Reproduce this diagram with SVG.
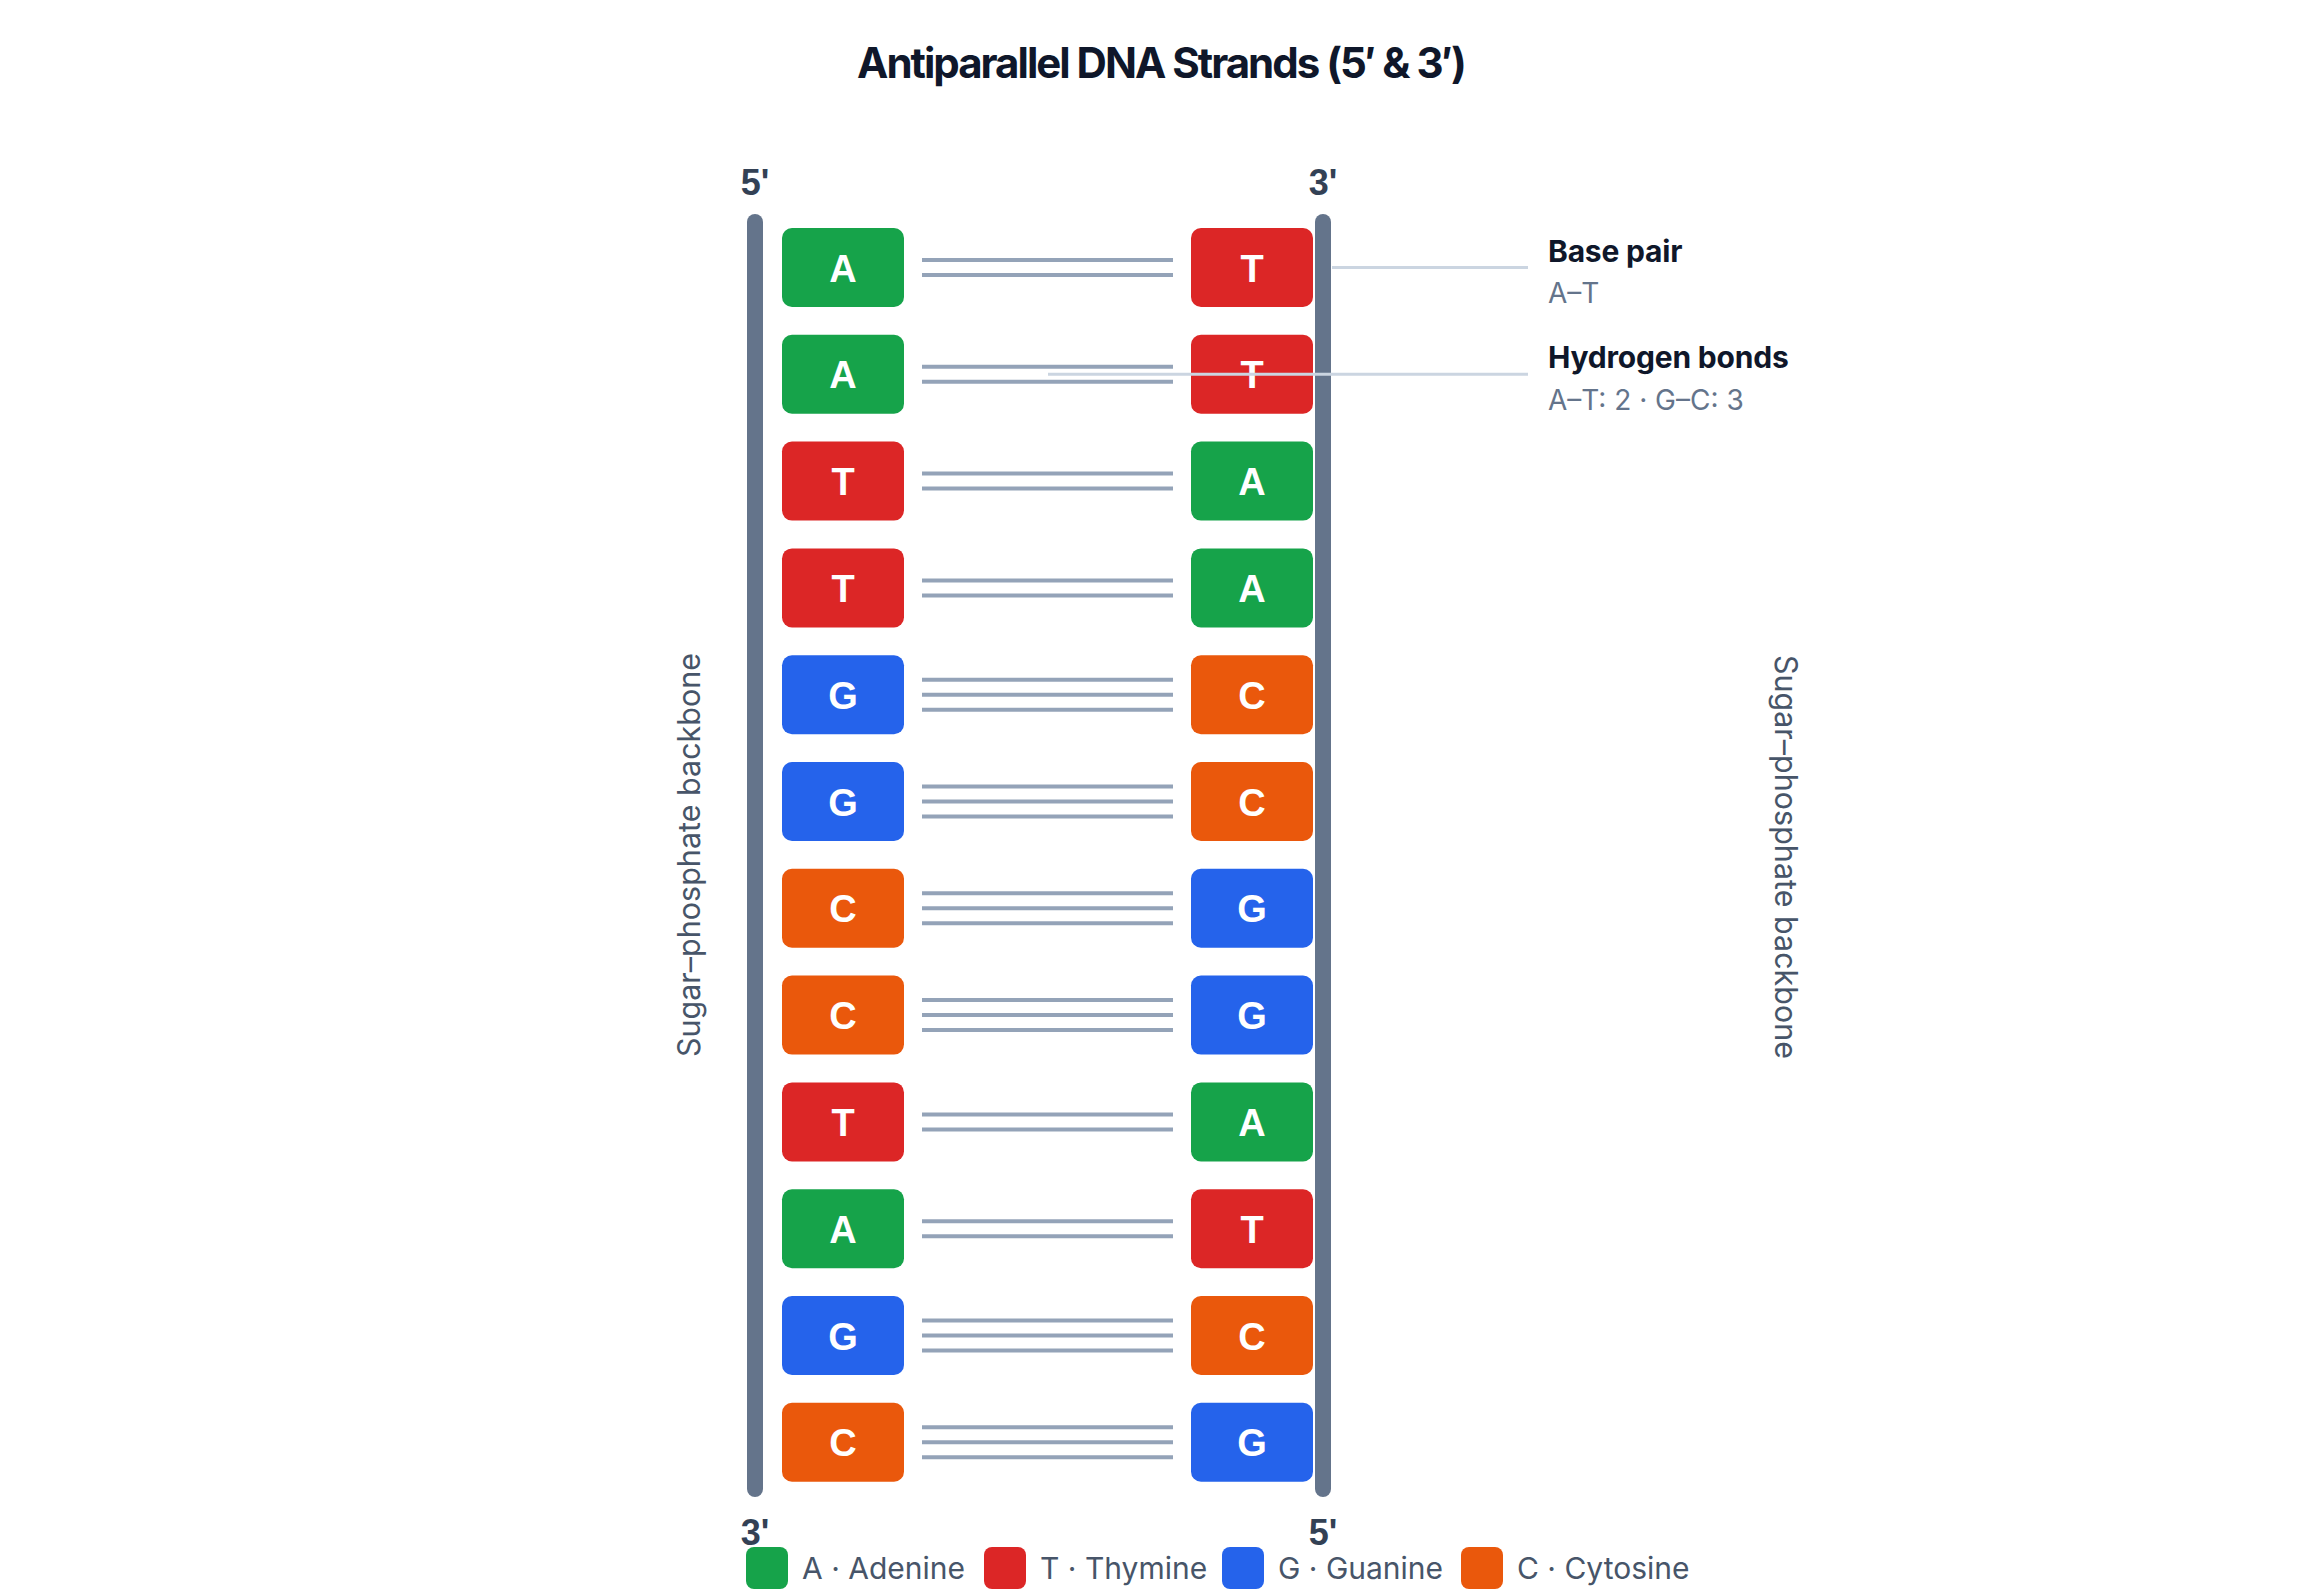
<svg xmlns="http://www.w3.org/2000/svg" width="2322" height="1589" viewBox="0 0 2322 1589">
<style>
.bg{fill:#ffffff}
.title{font-family:Inter,"Liberation Sans",sans-serif;font-weight:700;font-size:42px;fill:#0f172a;letter-spacing:-2px}
.end{font-family:"Liberation Sans",Arial,sans-serif;font-weight:700;font-size:36px;fill:#334155}
.bb{stroke:#64748b;stroke-width:16;stroke-linecap:round;fill:none}
.base rect{rx:10;ry:10}
.base text{font-family:"Liberation Sans",Arial,sans-serif;font-weight:700;font-size:38px;fill:#ffffff;text-anchor:middle}
.A{fill:#16a34a}.T{fill:#dc2626}.G{fill:#2563eb}.C{fill:#ea580c}
.bond{stroke:#94a3b8;stroke-width:4}
.call{stroke:#cbd5e1;stroke-width:3}
.lbl{font-family:Inter,"Liberation Sans",sans-serif;font-weight:700;font-size:30px;fill:#0f172a;letter-spacing:-0.2px}
.sub{font-family:Inter,"Liberation Sans",sans-serif;font-size:28px;fill:#64748b}
.side{font-family:Inter,"Liberation Sans",sans-serif;font-size:30.5px;fill:#475569;text-anchor:middle;dominant-baseline:middle}
.leg{font-family:Inter,"Liberation Sans",sans-serif;font-size:30px;fill:#475569}
</style>
<rect class="bg" x="0" y="0" width="2322" height="1589"/>
<text class="title" x="1161" y="78" text-anchor="middle">Antiparallel DNA Strands (5′ &amp; 3′)</text>

<g id="strand-left">
<line class="bb" x1="755" y1="222" x2="755" y2="1489"/>
<text class="end" x="755" y="195" text-anchor="middle">5'</text>
<text class="end" x="755" y="1545" text-anchor="middle">3'</text>
</g>
<g id="strand-right">
<line class="bb" x1="1323" y1="222" x2="1323" y2="1489"/>
<text class="end" x="1323" y="195" text-anchor="middle">3'</text>
<text class="end" x="1323" y="1545" text-anchor="middle">5'</text>
</g>

<g id="connectors">
<g id="bonds">
<line class="bond" x1="922" y1="260" x2="1173" y2="260"/><line class="bond" x1="922" y1="275" x2="1173" y2="275"/>
<line class="bond" x1="922" y1="366.8" x2="1173" y2="366.8"/><line class="bond" x1="922" y1="381.8" x2="1173" y2="381.8"/>
<line class="bond" x1="922" y1="473.6" x2="1173" y2="473.6"/><line class="bond" x1="922" y1="488.6" x2="1173" y2="488.6"/>
<line class="bond" x1="922" y1="580.4" x2="1173" y2="580.4"/><line class="bond" x1="922" y1="595.4" x2="1173" y2="595.4"/>
<line class="bond" x1="922" y1="679.7" x2="1173" y2="679.7"/><line class="bond" x1="922" y1="694.7" x2="1173" y2="694.7"/><line class="bond" x1="922" y1="709.7" x2="1173" y2="709.7"/>
<line class="bond" x1="922" y1="786.5" x2="1173" y2="786.5"/><line class="bond" x1="922" y1="801.5" x2="1173" y2="801.5"/><line class="bond" x1="922" y1="816.5" x2="1173" y2="816.5"/>
<line class="bond" x1="922" y1="893.3" x2="1173" y2="893.3"/><line class="bond" x1="922" y1="908.3" x2="1173" y2="908.3"/><line class="bond" x1="922" y1="923.3" x2="1173" y2="923.3"/>
<line class="bond" x1="922" y1="1000.1" x2="1173" y2="1000.1"/><line class="bond" x1="922" y1="1015.1" x2="1173" y2="1015.1"/><line class="bond" x1="922" y1="1030.1" x2="1173" y2="1030.1"/>
<line class="bond" x1="922" y1="1114.4" x2="1173" y2="1114.4"/><line class="bond" x1="922" y1="1129.4" x2="1173" y2="1129.4"/>
<line class="bond" x1="922" y1="1221.2" x2="1173" y2="1221.2"/><line class="bond" x1="922" y1="1236.2" x2="1173" y2="1236.2"/>
<line class="bond" x1="922" y1="1320.5" x2="1173" y2="1320.5"/><line class="bond" x1="922" y1="1335.5" x2="1173" y2="1335.5"/><line class="bond" x1="922" y1="1350.5" x2="1173" y2="1350.5"/>
<line class="bond" x1="922" y1="1427.3" x2="1173" y2="1427.3"/><line class="bond" x1="922" y1="1442.3" x2="1173" y2="1442.3"/><line class="bond" x1="922" y1="1457.3" x2="1173" y2="1457.3"/>
</g>
<line class="call" x1="1332" y1="267.5" x2="1528" y2="267.5"/>
</g>

<g id="bases">
<g id="L1" class="base"><rect class="A" x="782" y="228" width="122" height="79"/><text x="843" y="281.5">A</text></g>
<g id="L2" class="base"><rect class="A" x="782" y="334.8" width="122" height="79"/><text x="843" y="388.3">A</text></g>
<g id="L3" class="base"><rect class="T" x="782" y="441.6" width="122" height="79"/><text x="843" y="495.1">T</text></g>
<g id="L4" class="base"><rect class="T" x="782" y="548.4" width="122" height="79"/><text x="843" y="601.9">T</text></g>
<g id="L5" class="base"><rect class="G" x="782" y="655.2" width="122" height="79"/><text x="843" y="708.7">G</text></g>
<g id="L6" class="base"><rect class="G" x="782" y="762" width="122" height="79"/><text x="843" y="815.5">G</text></g>
<g id="L7" class="base"><rect class="C" x="782" y="868.8" width="122" height="79"/><text x="843" y="922.3">C</text></g>
<g id="L8" class="base"><rect class="C" x="782" y="975.6" width="122" height="79"/><text x="843" y="1029.1">C</text></g>
<g id="L9" class="base"><rect class="T" x="782" y="1082.4" width="122" height="79"/><text x="843" y="1135.9">T</text></g>
<g id="L10" class="base"><rect class="A" x="782" y="1189.2" width="122" height="79"/><text x="843" y="1242.7">A</text></g>
<g id="L11" class="base"><rect class="G" x="782" y="1296" width="122" height="79"/><text x="843" y="1349.5">G</text></g>
<g id="L12" class="base"><rect class="C" x="782" y="1402.8" width="122" height="79"/><text x="843" y="1456.3">C</text></g>

<g id="R1" class="base"><rect class="T" x="1191" y="228" width="122" height="79"/><text x="1252" y="281.5">T</text></g>
<g id="R2" class="base"><rect class="T" x="1191" y="334.8" width="122" height="79"/><text x="1252" y="388.3">T</text></g>
<g id="R3" class="base"><rect class="A" x="1191" y="441.6" width="122" height="79"/><text x="1252" y="495.1">A</text></g>
<g id="R4" class="base"><rect class="A" x="1191" y="548.4" width="122" height="79"/><text x="1252" y="601.9">A</text></g>
<g id="R5" class="base"><rect class="C" x="1191" y="655.2" width="122" height="79"/><text x="1252" y="708.7">C</text></g>
<g id="R6" class="base"><rect class="C" x="1191" y="762" width="122" height="79"/><text x="1252" y="815.5">C</text></g>
<g id="R7" class="base"><rect class="G" x="1191" y="868.8" width="122" height="79"/><text x="1252" y="922.3">G</text></g>
<g id="R8" class="base"><rect class="G" x="1191" y="975.6" width="122" height="79"/><text x="1252" y="1029.1">G</text></g>
<g id="R9" class="base"><rect class="A" x="1191" y="1082.4" width="122" height="79"/><text x="1252" y="1135.9">A</text></g>
<g id="R10" class="base"><rect class="T" x="1191" y="1189.2" width="122" height="79"/><text x="1252" y="1242.7">T</text></g>
<g id="R11" class="base"><rect class="C" x="1191" y="1296" width="122" height="79"/><text x="1252" y="1349.5">C</text></g>
<g id="R12" class="base"><rect class="G" x="1191" y="1402.8" width="122" height="79"/><text x="1252" y="1456.3">G</text></g>
</g>

<g id="callout-connector">
<line class="call" x1="1048" y1="374.3" x2="1528" y2="374.3"/>
</g>

<g id="label-basepair">
<text class="lbl" x="1548" y="262">Base pair</text>
<text class="sub" x="1548" y="303">A–T</text>
</g>
<g id="label-hbonds">
<text class="lbl" x="1548" y="368">Hydrogen bonds</text>
<text class="sub" x="1548" y="410">A–T: 2 · G–C: 3</text>
</g>

<text class="side" transform="translate(692,855) rotate(-90)">Sugar–phosphate backbone</text>
<text class="side" transform="translate(1783,857) rotate(90)">Sugar–phosphate backbone</text>

<g id="legend">
<rect class="A" x="746" y="1547" width="42" height="42" rx="8"/><text class="leg" x="802" y="1579">A · Adenine</text>
<rect class="T" x="984" y="1547" width="42" height="42" rx="8"/><text class="leg" x="1040" y="1579">T · Thymine</text>
<rect class="G" x="1222" y="1547" width="42" height="42" rx="8"/><text class="leg" x="1278" y="1579">G · Guanine</text>
<rect class="C" x="1461" y="1547" width="42" height="42" rx="8"/><text class="leg" x="1517" y="1579">C · Cytosine</text>
</g>
</svg>
